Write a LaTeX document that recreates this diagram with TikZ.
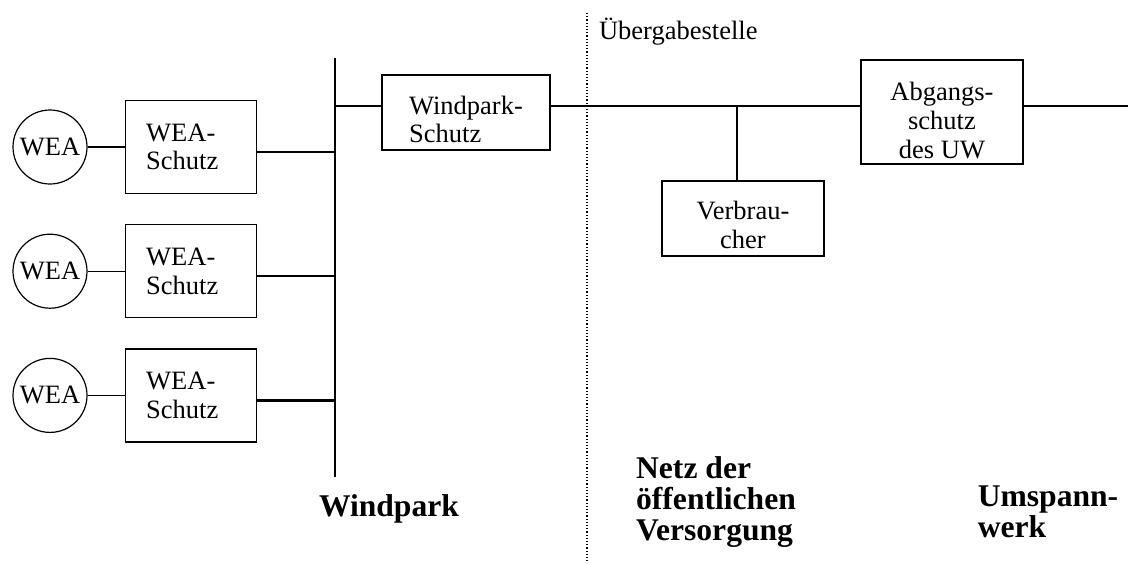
\documentclass[tikz,border=0pt]{standalone}
\usepackage{fontspec}
\setmainfont{Liberation Serif}
\usetikzlibrary{positioning}

\begin{document}
\begin{tikzpicture}[x=0.5pt,y=-0.5pt,
  box/.style={draw,line width=0.6pt,inner sep=0pt,align=center,font=\fontsize{13.25}{14.3}\selectfont},
  tief/.style={box,text depth=0pt,text height=#1},
  wea/.style={box,circle,minimum size=37pt},
  schutz/.style={box,minimum width=65.5pt,minimum height=46.5pt,align=left,text width=44.5pt},
  wire/.style={line width=0.6pt},
  bus/.style={line width=1.1pt},
  grenze/.style={line width=0.6pt,densely dotted},
  area/.style={align=left,inner sep=0pt,font=\fontsize{15.8}{15.5}\selectfont\bfseries}
]
\useasboundingbox (0,0) rectangle (1128,563);
% Windpark
\node[wea] (wea1) at (50,147) {WEA};
\node[wea,below=24.5pt of wea1] (wea2) {WEA};
\node[wea,below=24.5pt of wea2] (wea3) {WEA};
\node[schutz,right=18.5pt of wea1] (ws1) {WEA-\\Schutz};
\node[schutz,right=18.5pt of wea2] (ws2) {WEA-\\Schutz};
\node[schutz,right=18.5pt of wea3] (ws3) {WEA-\\Schutz};
\draw[wire] (wea1) -- (ws1);
\draw[wire] (wea2) -- (ws2);
\draw[wire] (wea3) -- (ws3);
\coordinate (bustop) at (335,58);
\coordinate (busbot) at (335,477);
\draw[bus] (bustop) -- (busbot);
\draw[bus] ([yshift=-2.5pt]ws1.east) -- ([yshift=-2.5pt]ws1.east -| bustop);
\draw[bus] ([yshift=-2.5pt]ws2.east) -- ([yshift=-2.5pt]ws2.east -| bustop);
\draw[bus] ([yshift=-2.5pt]ws3.east) -- ([yshift=-2.5pt]ws3.east -| bustop);
\node[tief=30.2pt,minimum width=84pt,minimum height=37.5pt,align=left] (wps) at (466,112.5) {Windpark-\\Schutz};
% Netz und Umspannwerk
\coordinate (netzende) at (1128,106);
\node[tief=46pt,minimum width=81pt,minimum height=52pt] (abg) at (942,112) {Abgangs-\\schutz\\des UW};
\node[tief=29.5pt,minimum width=81pt,minimum height=37.5pt] (verb) at (743,218.5) {Verbrau-\\cher};
\draw[bus] (bustop |- netzende) -- (wps.west |- netzende);
\draw[bus] (wps.east |- netzende) -- (abg.west |- netzende);
\draw[bus] (abg.east |- netzende) -- (netzende);
\draw[wire] ([xshift=-3pt]verb.north) -- ([xshift=-3pt]verb.north |- netzende);
% Grenze
\coordinate (uetop) at (587,13);
\coordinate (uebot) at (587,563);
\draw[grenze] (uetop) -- (uebot);
\node[anchor=west,font=\fontsize{13.25}{14.3}\selectfont] (ueb) at (592,32) {Übergabestelle};
% Bereiche
\node[area] (wp) at (389,509) {Windpark};
\node[area] (netz) at (716,502) {Netz der\\öffentlichen\\Versorgung};
\node[area] (uw) at (1048,512) {Umspann-\\werk};
\end{tikzpicture}
\end{document}
